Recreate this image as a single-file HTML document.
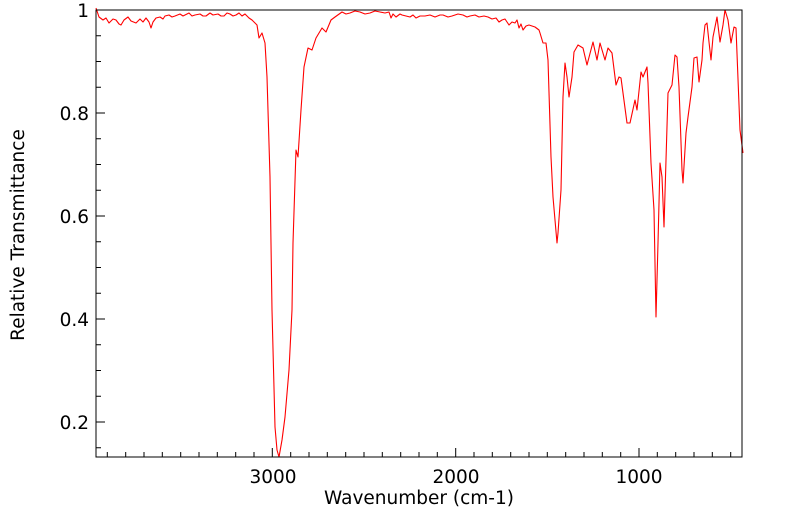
<!DOCTYPE html>
<html><head><style>
html,body{margin:0;padding:0;background:#fff;}
svg{display:block;font-family:"DejaVu Sans","Liberation Sans",sans-serif;}
</style></head><body>
<svg width="799" height="516" viewBox="0 0 799 516" xmlns="http://www.w3.org/2000/svg">
<rect width="799" height="516" fill="#fff"/>
<path stroke="#000" stroke-width="1" fill="none" d="
M730.7,457v-5 M712.3,457v-5 M694,457v-5 M675.7,457v-5 M657.3,457v-5 M639,457v-9 M620.7,457v-5 M602.3,457v-5 M584,457v-5 M565.7,457v-5 M547.3,457v-5 M529,457v-5 M510.7,457v-5 M492.3,457v-5 M474,457v-5 M455.7,457v-9 M437.3,457v-5 M419,457v-5 M400.7,457v-5 M382.3,457v-5 M364,457v-5 M345.7,457v-5 M327.3,457v-5 M309,457v-5 M290.7,457v-5 M272.3,457v-9 M254,457v-5 M235.7,457v-5 M217.3,457v-5 M199,457v-5 M180.7,457v-5 M162.3,457v-5 M144,457v-5 M125.7,457v-5 M107.3,457v-5
M96,447.75h5 M96,422h9 M96,396.25h5 M96,370.5h5 M96,344.75h5 M96,319h9 M96,293.25h5 M96,267.5h5 M96,241.75h5 M96,216h9 M96,190.25h5 M96,164.5h5 M96,138.75h5 M96,113h9 M96,87.25h5 M96,61.5h5 M96,35.75h5"/>
<polyline fill="none" stroke="#ff0000" stroke-width="1.1" stroke-linejoin="round" points="
96,8 99,17 103,20 106,18 109,23 113,19 116,20 119,24 121,25 124,20 128,17 131,21 136,23 140,19 143,22 146,18 149,22 151,28 153,22 156,18 160,17 163,19 165,16 169,15 172,17 175,16 180,14 183,16 185,15 189,13 192,16 195,15 200,14 203,16 206,16 210,13 213,15 218,14 221,16 224,16 227,13 230,14 233,16 236,15 239,13 242,16 245,14 249,18 252,20 257,25 259,38 262,33 265,43 267,77 270,177 272,310 275,427 277,450 279,457 282,440 285,417 289,370 292,310 293,243 296,150 298,157 301,110 304,67 308,48 312,50 316,38 322,28 326,32 331,20 335,17 342,12 346,14 350,13 355,11 360,12 365,14 370,13 375,11 380,12 385,13 389,12 391,18 393,14 396,17 400,14 402,15 406,16 410,17 413,15 416,18 420,16 425,16 430,15 435,17 440,15 443,15 448,17 452,16 458,14 463,15 467,17 470,16 475,15 479,17 484,16 488,17 492,19 496,18 499,22 502,20 505,19 509,25 512,22 515,23 517,20 519,28 521,24 523,30 526,26 529,25 532,26 535,27 539,30 540,33 543,43 546,43 548,60 551,157 553,197 557,243 558,233 561,190 563,97 565,63 567,77 569,97 572,77 574,52 578,45 583,48 587,65 593,42 597,60 600,43 605,60 608,48 612,53 616,85 619,77 621,78 623,93 627,123 630,123 635,100 637,110 641,72 643,77 647,67 648,83 651,163 654,210 656,317 658,243 660,163 662,177 664,227 666,160 668,93 672,85 675,55 677,57 679,87 682,170 683,183 686,133 688,117 692,87 694,58 697,57 699,82 702,60 703,43 705,25 707,23 709,42 711,60 713,37 717,17 720,42 723,25 725,10 728,20 731,43 734,27 736,28 740,130 743,153"/>
<rect x="96" y="10" width="646" height="447" fill="none" stroke="#000" stroke-width="1"/>
<g font-size="18.5" fill="#000" text-anchor="end">
<text x="89" y="17">1</text>
<text x="89" y="120">0.8</text>
<text x="89" y="223">0.6</text>
<text x="89" y="326">0.4</text>
<text x="89" y="429">0.2</text>
</g>
<g font-size="18.5" fill="#000" text-anchor="middle">
<text x="273" y="483">3000</text>
<text x="456" y="483">2000</text>
<text x="639" y="483">1000</text>
<text x="419" y="504">Wavenumber (cm-1)</text>
<text transform="translate(24,235) rotate(-90)">Relative Transmittance</text>
</g>
</svg>
</body></html>
